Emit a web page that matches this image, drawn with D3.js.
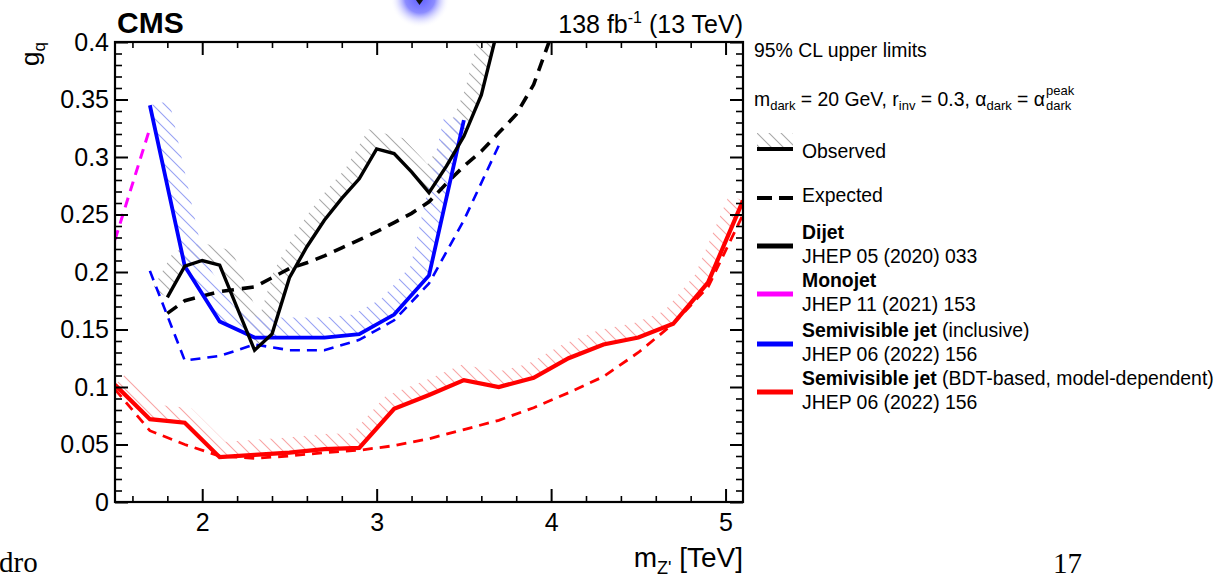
<!DOCTYPE html>
<html>
<head>
<meta charset="utf-8">
<script src="https://cdn.jsdelivr.net/npm/d3@7"></script>
<style>
body { margin: 0; background: #fff; }
text { font-family: 'Liberation Sans', Arial, sans-serif; fill: #000; }
</style>
</head>
<body>
<svg id="chart"></svg>
<script>
// tick labels
let xTicks = [2, 3, 4, 5]
let yTicks = [0, 0.05, 0.1, 0.15, 0.2, 0.25, 0.3, 0.35, 0.4]

// Dijet
let dijetObsX = [1.8, 1.9, 2.0, 2.1, 2.3, 2.4, 2.5, 2.6, 2.7, 2.8, 2.9, 3.0, 3.1, 3.2, 3.3, 3.4, 3.5, 3.6, 3.7]
let dijetObsY = [0.178, 0.205, 0.210, 0.206, 0.132, 0.146, 0.195, 0.222, 0.245, 0.264, 0.281, 0.307, 0.303, 0.287, 0.269, 0.292, 0.318, 0.354, 0.415]
let dijetExpX = [1.8, 1.9, 2.0, 2.1, 2.2, 2.3, 2.4, 2.5, 2.6, 2.7, 2.8, 2.9, 3.0, 3.1, 3.2, 3.3, 3.4, 3.5, 3.6, 3.7, 3.8, 3.9, 4.0]
let dijetExpY = [0.164, 0.175, 0.179, 0.183, 0.185, 0.187, 0.195, 0.203, 0.208, 0.214, 0.221, 0.228, 0.235, 0.243, 0.251, 0.261, 0.277, 0.292, 0.305, 0.321, 0.337, 0.363, 0.405]

// Monojet (expected only)
let monoExpX = [1.5, 1.7]
let monoExpY = [0.228, 0.325]

// Semivisible jet, inclusive
let svjObsX = [1.7, 1.9, 2.1, 2.3, 2.5, 2.7, 2.9, 3.1, 3.3, 3.5]
let svjObsY = [0.345, 0.205, 0.157, 0.143, 0.143, 0.143, 0.146, 0.163, 0.197, 0.332]
let svjExpX = [1.7, 1.9, 2.1, 2.3, 2.5, 2.7, 2.9, 3.1, 3.3, 3.5, 3.7]
let svjExpY = [0.201, 0.123, 0.127, 0.137, 0.132, 0.132, 0.141, 0.158, 0.19, 0.245, 0.31]

// Semivisible jet, BDT-based
let bdtObsX = [1.5, 1.7, 1.9, 2.1, 2.3, 2.5, 2.7, 2.9, 3.1, 3.3, 3.5, 3.7, 3.9, 4.1, 4.3, 4.5, 4.7, 4.9, 5.1]
let bdtObsY = [0.102, 0.072, 0.069, 0.039, 0.041, 0.043, 0.046, 0.047, 0.081, 0.093, 0.106, 0.100, 0.108, 0.125, 0.137, 0.143, 0.155, 0.191, 0.262]
let bdtExpX = [1.5, 1.7, 1.9, 2.1, 2.3, 2.5, 2.7, 2.9, 3.1, 3.3, 3.5, 3.7, 3.9, 4.1, 4.3, 4.5, 4.7, 4.9, 5.1]
let bdtExpY = [0.098, 0.062, 0.050, 0.040, 0.038, 0.040, 0.043, 0.045, 0.049, 0.055, 0.063, 0.071, 0.082, 0.095, 0.109, 0.130, 0.155, 0.187, 0.250]

let width = 1224
let height = 578
let padL = 115, padR = 743, padT = 42, padB = 502

let svg = d3.select('svg').attr('width', width).attr('height', height)

let xScale = d3.scaleLinear().domain([1.5, 5.1]).range([padL, padR])
let yScale = d3.scaleLinear().domain([0, 0.4]).range([padB, padT])

let defs = svg.append('defs')

defs.append('clipPath').attr('id', 'plotclip')
  .append('rect').attr('x', padL).attr('y', padT).attr('width', padR - padL).attr('height', padB - padT)

let makeHatch = (id, color) => {
  let p = defs.append('pattern').attr('id', id)
    .attr('patternUnits', 'userSpaceOnUse').attr('width', 12).attr('height', 12)
  p.append('path').attr('d', 'M-3,-3 L15,15 M-3,9 L3,15 M9,-3 L15,3')
    .attr('stroke', color).attr('stroke-width', 1.1)
}
makeHatch('hatchBlack', '#a8a8a8')
makeHatch('hatchBlue', '#98a2f4')
makeHatch('hatchRed', '#f8a4a4')

let glow = defs.append('radialGradient').attr('id', 'glow')
glow.append('stop').attr('offset', '0%').attr('stop-color', '#5c5cff')
glow.append('stop').attr('offset', '50%').attr('stop-color', '#8c8cff')
glow.append('stop').attr('offset', '100%').attr('stop-color', '#ffffff').attr('stop-opacity', 0)

// slide artefacts
svg.append('circle').attr('cx', 420).attr('cy', -2).attr('r', 30).attr('fill', 'url(#glow)')
svg.append('path').attr('d', 'M416,0 L423,0 L419.5,5 Z').attr('fill', '#111')

let zip = (xs, ys) => xs.map((x, i) => [x, ys[i]])

let line = d3.line().x(d => xScale(d[0])).y(d => yScale(d[1]))

// band on one side of the curve, like a ROOT hatched graph
let hatchPolygon = (xs, ys, w) => {
  let p = xs.map((x, i) => [xScale(x), yScale(ys[i])])
  let segN = []
  for (let i = 0; i < p.length - 1; i++) {
    let dx = p[i + 1][0] - p[i][0], dy = p[i + 1][1] - p[i][1]
    let l = Math.hypot(dx, dy)
    segN.push([dy / l, -dx / l])
  }
  let off = p.map((q, i) => {
    let a = segN[Math.max(i - 1, 0)], b = segN[Math.min(i, segN.length - 1)]
    let nx = a[0] + b[0], ny = a[1] + b[1]
    let l = Math.hypot(nx, ny)
    nx /= l; ny /= l
    let c = Math.max(nx * b[0] + ny * b[1], 0.5)
    return [q[0] + nx * w / c, q[1] + ny * w / c]
  })
  return p.concat(off.reverse())
}

let plot = svg.append('g').attr('clip-path', 'url(#plotclip)')

let hatches = [
  { x: dijetObsX, y: dijetObsY, fill: 'url(#hatchBlack)', w: 17 },
  { x: svjObsX, y: svjObsY, fill: 'url(#hatchBlue)', w: 20 },
  { x: bdtObsX, y: bdtObsY, fill: 'url(#hatchRed)', w: 15 }
]

plot.selectAll('.hatch')
  .data(hatches)
  .enter()
  .append('polygon')
  .attr('class', 'hatch')
  .attr('points', d => hatchPolygon(d.x, d.y, d.w).map(q => q.join(',')).join(' '))
  .attr('fill', d => d.fill)

let curves = [
  { x: dijetExpX, y: dijetExpY, color: '#000', w: 3.6, dash: '12,8' },
  { x: monoExpX, y: monoExpY, color: '#ff00ff', w: 3, dash: '10,7' },
  { x: svjExpX, y: svjExpY, color: '#0000ff', w: 2.6, dash: '10,7' },
  { x: bdtExpX, y: bdtExpY, color: '#ff0000', w: 2.8, dash: '10,7' },
  { x: svjObsX, y: svjObsY, color: '#0000ff', w: 3.8, dash: null },
  { x: bdtObsX, y: bdtObsY, color: '#ff0000', w: 4.2, dash: null },
  { x: dijetObsX, y: dijetObsY, color: '#000', w: 3.4, dash: null }
]

plot.selectAll('.curve')
  .data(curves)
  .enter()
  .append('path')
  .attr('class', 'curve')
  .attr('d', d => line(zip(d.x, d.y)))
  .attr('fill', 'none')
  .attr('stroke', d => d.color)
  .attr('stroke-width', d => d.w)
  .attr('stroke-dasharray', d => d.dash)
  .attr('stroke-linejoin', 'miter')

// axes
let xMinor = d3.range(8, 26).map(i => +(i * 0.2).toFixed(1)).filter(v => v % 1 !== 0)
let yMinor = d3.range(0, 41).filter(i => i % 5 !== 0).map(i => i / 100)

let styleAxis = (g, sw) => {
  g.select('.domain').remove()
  g.selectAll('line').attr('stroke', '#000').attr('stroke-width', sw)
  g.selectAll('text').style('font-family', "'Liberation Sans', Arial, sans-serif").style('font-size', '25px').attr('fill', '#000')
}

svg.append('g').attr('transform', 'translate(0,' + padB + ')')
  .call(d3.axisBottom(xScale).tickValues(xTicks).tickSize(-13).tickPadding(11).tickFormat(d3.format('d')))
  .call(g => styleAxis(g, 2))
svg.append('g').attr('transform', 'translate(0,' + padB + ')')
  .call(d3.axisBottom(xScale).tickValues(xMinor).tickSize(-6).tickFormat(''))
  .call(g => styleAxis(g, 1.6))
svg.append('g').attr('transform', 'translate(0,' + padT + ')')
  .call(d3.axisTop(xScale).tickValues(xTicks).tickSize(-13).tickFormat(''))
  .call(g => styleAxis(g, 2))
svg.append('g').attr('transform', 'translate(0,' + padT + ')')
  .call(d3.axisTop(xScale).tickValues(xMinor).tickSize(-6).tickFormat(''))
  .call(g => styleAxis(g, 1.6))

svg.append('g').attr('transform', 'translate(' + padL + ',0)')
  .call(d3.axisLeft(yScale).tickValues(yTicks).tickSize(-13).tickPadding(6)
    .tickFormat(d => d === 0 ? '0' : d3.format('.2~f')(d)))
  .call(g => styleAxis(g, 2))
svg.append('g').attr('transform', 'translate(' + padL + ',0)')
  .call(d3.axisLeft(yScale).tickValues(yMinor).tickSize(-7).tickFormat(''))
  .call(g => styleAxis(g, 1.6))
svg.append('g').attr('transform', 'translate(' + padR + ',0)')
  .call(d3.axisRight(yScale).tickValues(yTicks).tickSize(-13).tickFormat(''))
  .call(g => styleAxis(g, 2))
svg.append('g').attr('transform', 'translate(' + padR + ',0)')
  .call(d3.axisRight(yScale).tickValues(yMinor).tickSize(-7).tickFormat(''))
  .call(g => styleAxis(g, 1.6))

svg.append('rect')
  .attr('x', padL).attr('y', padT).attr('width', padR - padL).attr('height', padB - padT)
  .attr('fill', 'none').attr('stroke', '#000').attr('stroke-width', 2.2)

// axis titles
let xt = svg.append('text').attr('x', padR).attr('y', 567).attr('text-anchor', 'end').style('font-size', '28px')
xt.append('tspan').text('m')
xt.append('tspan').attr('dy', 7).style('font-size', '18px').text("Z'")
xt.append('tspan').attr('dy', -7).text(' [TeV]')

let yt = svg.append('text').attr('transform', 'translate(39,42) rotate(-90)').attr('text-anchor', 'end').style('font-size', '26px')
yt.append('tspan').text('g')
yt.append('tspan').attr('dy', 6).style('font-size', '17px').text('q')

// header
svg.append('text').attr('x', padL + 2).attr('y', 33).style('font-size', '30px').style('font-weight', 'bold').text('CMS')
let lumi = svg.append('text').attr('x', padR).attr('y', 33).attr('text-anchor', 'end').style('font-size', '25px')
lumi.append('tspan').text('138 fb')
lumi.append('tspan').attr('dy', -10).style('font-size', '16px').text('-1')
lumi.append('tspan').attr('dy', 10).text(' (13 TeV)')

// legend
let lx = 802
let fs = '19.4px'
svg.append('text').attr('x', 754).attr('y', 57).style('font-size', fs).text('95% CL upper limits')

let par = svg.append('text').attr('x', 754).attr('y', 106).style('font-size', fs)
par.append('tspan').text('m')
par.append('tspan').attr('dy', 4).style('font-size', '13px').text('dark')
par.append('tspan').attr('dy', -4).text(' = 20 GeV, r')
par.append('tspan').attr('dy', 4).style('font-size', '13px').text('inv')
par.append('tspan').attr('dy', -4).text(' = 0.3, α')
par.append('tspan').attr('dy', 4).style('font-size', '13px').text('dark')
par.append('tspan').attr('dy', -4).text(' = α')
let parEnd = par.node().getBBox()
let px = parEnd.x + parEnd.width + 1
svg.append('text').attr('x', px).attr('y', 110).style('font-size', '13px').text('dark')
svg.append('text').attr('x', px).attr('y', 95).style('font-size', '13px').text('peak')

svg.append('polygon').attr('points', '757,147 793,147 793,133 757,133').attr('fill', 'url(#hatchBlack)')
svg.append('line').attr('x1', 757).attr('x2', 793).attr('y1', 149).attr('y2', 149).attr('stroke', '#000').attr('stroke-width', 4)
svg.append('text').attr('x', lx).attr('y', 158).style('font-size', fs).text('Observed')

svg.append('line').attr('x1', 757).attr('x2', 793).attr('y1', 198).attr('y2', 198)
  .attr('stroke', '#000').attr('stroke-width', 4).attr('stroke-dasharray', '15,7')
svg.append('text').attr('x', lx).attr('y', 202).style('font-size', fs).text('Expected')

let entries = [
  { bold: 'Dijet', rest: '', ref: 'JHEP 05 (2020) 033', color: '#000', y: 239 },
  { bold: 'Monojet', rest: '', ref: 'JHEP 11 (2021) 153', color: '#ff00ff', y: 287 },
  { bold: 'Semivisible jet', rest: ' (inclusive)', ref: 'JHEP 06 (2022) 156', color: '#0000ff', y: 337 },
  { bold: 'Semivisible jet', rest: ' (BDT-based, model-dependent)', ref: 'JHEP 06 (2022) 156', color: '#ff0000', y: 385 }
]

let leg = svg.selectAll('.entry').data(entries).enter().append('g').attr('class', 'entry')
leg.append('line').attr('x1', 757).attr('x2', 793).attr('y1', d => d.y + 7).attr('y2', d => d.y + 7)
  .attr('stroke', d => d.color).attr('stroke-width', 5)
let t1 = leg.append('text').attr('x', lx).attr('y', d => d.y).style('font-size', fs)
t1.append('tspan').style('font-weight', 'bold').text(d => d.bold)
t1.append('tspan').text(d => d.rest)
leg.append('text').attr('x', lx).attr('y', d => d.y + 24).style('font-size', fs).text(d => d.ref)

// slide footer
svg.append('text').attr('x', -1).attr('y', 572).style('font-family', "'Liberation Serif', serif").style('font-size', '29px').text('dro')
svg.append('text').attr('x', 1053).attr('y', 573).style('font-family', "'Liberation Serif', serif").style('font-size', '29px').text('17')
</script>
</body>
</html>
